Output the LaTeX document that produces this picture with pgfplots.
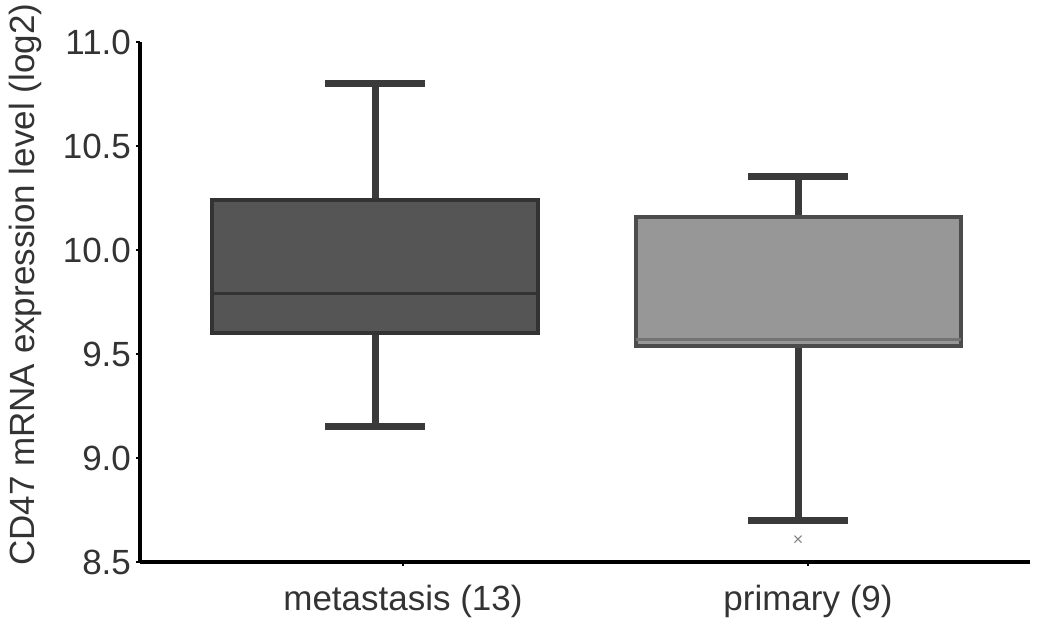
\documentclass[border=0pt]{standalone}
\usepackage{pgfplots}
\pgfplotsset{compat=1.18}
\usepgfplotslibrary{statistics}
\usepackage{fontspec}
\setmainfont{Liberation Sans}
\definecolor{metafill}{HTML}{555555}
\definecolor{primfill}{HTML}{979797}
\definecolor{edge}{HTML}{3A3A3A}
\begin{document}
\begin{tikzpicture}
\begin{axis}[
  name=ax,
  scale only axis,
  width=445pt, height=260pt,
  xmin=1.40, xmax=10.30,
  ymin=8.5, ymax=11.0,
  axis x line*=bottom, axis y line*=left,
  axis line style={line width=2.3pt, black},
  xtick={4.03,8.08},
  xticklabels={metastasis (13), primary (9)},
  ytick={8.5,9.0,9.5,10.0,10.5,11.0},
  yticklabel style={/pgf/number format/fixed, /pgf/number format/fixed zerofill, /pgf/number format/precision=1, /pgf/number format/assume math mode=true, xshift=1pt},
  ticklabel style={font=\fontsize{17.5}{21}\selectfont, text=black!80},
  xticklabel style={yshift=-6pt},
  tick align=outside,
  major tick length=2pt,
  tick style={line width=1pt, black},
  ylabel={CD47 mRNA expression level (log2)},
  ylabel style={font=\fontsize{17.5}{21}\selectfont, text=black!80, at={(axis description cs:-0.129,0.533)}, anchor=center},
  clip=false,
  boxplot/draw direction=y,
]
\addplot+[boxplot prepared={draw position=3.75, lower whisker=9.15, lower quartile=9.60, median=9.79, upper quartile=10.24, upper whisker=10.80, box extend=3.25, whisker extend=1.0, draw direction=y},
  draw=edge, line width=3.5pt, fill=metafill, solid, mark=none,
  boxplot/every box/.style={draw=black!80, line width=2pt, fill=metafill},
  boxplot/every median/.style={draw=black!80, line width=1.5pt}]
  coordinates {};
\addplot+[boxplot prepared={draw position=7.98, lower whisker=8.70, lower quartile=9.54, median=9.57, upper quartile=10.16, upper whisker=10.355, box extend=3.25, whisker extend=1.0, draw direction=y},
  draw=edge, line width=3.5pt, fill=primfill, solid, mark=x, mark size=2.5pt,
  mark options={draw=black!50, line width=0.6pt},
  boxplot/every box/.style={draw=black!70, line width=2pt, fill=primfill},
  boxplot/every median/.style={draw=black!55, line width=1.2pt}]
  table[row sep=\\, y index=0] {y\\ 8.61\\};
\end{axis}
\pgfresetboundingbox
\path[use as bounding box] (ax.south west) ++(-70pt,-36.5pt) rectangle ++(518.5pt,317.5pt);
\end{tikzpicture}
\end{document}
